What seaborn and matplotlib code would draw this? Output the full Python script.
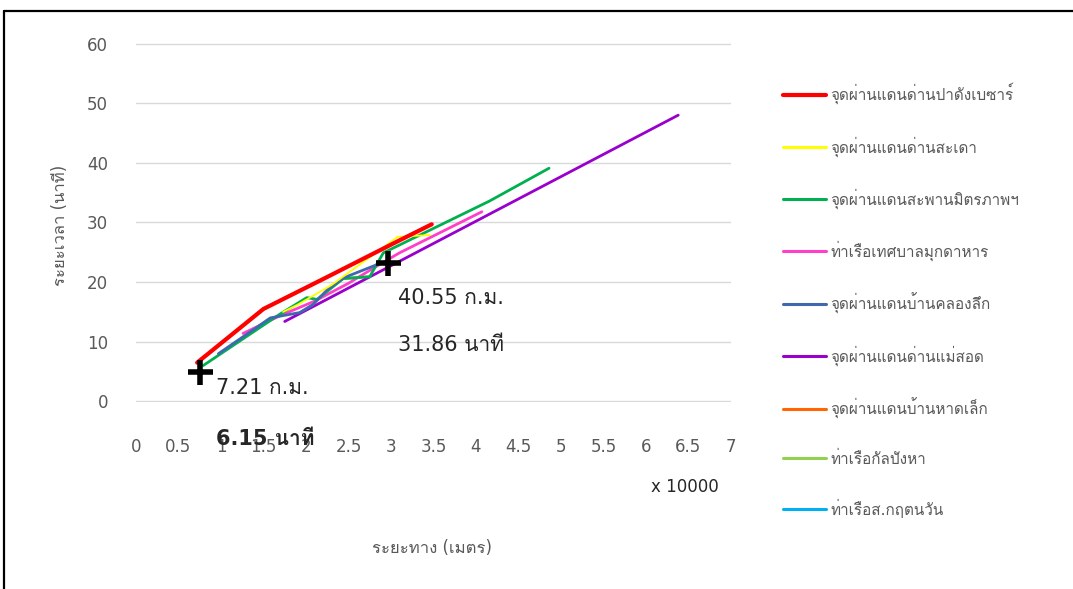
import matplotlib
matplotlib.use('Agg')
import matplotlib.pyplot as plt
import seaborn as sns
from matplotlib import font_manager
from matplotlib.ft2font import FT2Font
from matplotlib.lines import Line2D

# distance in units of 10000 m, time in minutes
names = ['จุดผ่านแดนด่านปาดังเบซาร์', 'จุดผ่านแดนด่านสะเดา', 'จุดผ่านแดนสะพานมิตรภาพฯ',
         'ท่าเรือเทศบาลมุกดาหาร', 'จุดผ่านแดนบ้านคลองลึก', 'จุดผ่านแดนด่านแม่สอด',
         'จุดผ่านแดนบ้านหาดเล็ก', 'ท่าเรือกัลปังหา', 'ท่าเรือส.กฤตนวัน']

padang_x = [0.72, 1.5, 2.2, 3.1, 3.48]
padang_y = [6.5, 15.5, 20.5, 27.0, 29.7]
sadao_x = [1.73, 1.9, 2.3, 2.87, 3.08, 3.46]
sadao_y = [15.0, 16.2, 19.5, 25.4, 27.6, 27.9]
mittra_x = [0.79, 1.69, 2.01, 2.13, 2.44, 2.75, 2.91, 4.16, 4.86]
mittra_y = [6.0, 14.6, 17.4, 17.1, 20.6, 20.9, 24.9, 33.6, 39.1]
mukdahan_x = [1.26, 1.7, 2.1, 2.5, 2.87, 3.1, 4.07]
mukdahan_y = [11.4, 14.4, 16.8, 19.8, 23.0, 24.9, 31.8]
khlongluek_x = [0.97, 1.44, 1.58, 1.93, 2.08, 2.25, 2.44, 2.83, 2.95]
khlongluek_y = [8.0, 12.6, 14.0, 14.9, 16.2, 18.7, 20.7, 22.9, 23.4]
maesot_x = [1.75, 6.38]
maesot_y = [13.4, 48.0]
hatlek_x = [1.5, 2.2]
hatlek_y = [15.5, 20.5]
kalpangha_x = [2.44, 2.75]
kalpangha_y = [20.6, 20.9]
kritnawan_x = [1.93, 2.08]
kritnawan_y = [14.9, 16.2]

colors = ['#FF0000', '#FFFF00', '#00B050', '#FF3FC8', '#4068B0',
          '#9A00CC', '#FF6600', '#92D050', '#00B0F0']
widths = [3.0, 1.3, 2.0, 2.0, 2.0, 2.0, 2.0, 2.0, 2.0]

mark_x = [0.75, 2.96]
mark_y = [5.0, 23.2]


def thai_font():
    for f in font_manager.fontManager.ttflist:
        try:
            if 0x0E01 in FT2Font(f.fname).get_charmap():
                return f.name
        except Exception:
            pass
    return 'DejaVu Sans'


sns.set_style('white')
fam = ['DejaVu Sans', thai_font()]
plt.rcParams['font.family'] = fam

fig = plt.figure(figsize=(10.73, 5.89), dpi=100)
ax = fig.add_axes([0.1267, 0.3175, 0.5545, 0.6095])

series = [(padang_x, padang_y), (sadao_x, sadao_y), (mittra_x, mittra_y),
          (mukdahan_x, mukdahan_y), (khlongluek_x, khlongluek_y), (maesot_x, maesot_y),
          (hatlek_x, hatlek_y), (kalpangha_x, kalpangha_y), (kritnawan_x, kritnawan_y)]

# hidden series go underneath, then the visible ones
order = [6, 7, 8, 5, 3, 2, 4, 1, 0]
for i in order:
    sx, sy = series[i]
    sns.lineplot(x=sx, y=sy, ax=ax, color=colors[i], lw=widths[i], sort=False,
                 estimator=None, legend=False)

ax.plot(mark_x, mark_y, '+', color='black', ms=18, mew=4, zorder=10, clip_on=False)

ax.set_xlim(0, 7)
ax.set_ylim(-0.1, 60.1)
ax.set_xticks([i * 0.5 for i in range(15)])
ax.set_xticklabels(['0', '0.5', '1', '1.5', '2', '2.5', '3', '3.5', '4', '4.5',
                    '5', '5.5', '6', '6.5', '7'])
ax.set_yticks(range(0, 61, 10))
ax.tick_params(axis='x', length=0, pad=26, labelsize=12, labelcolor='#595959')
ax.tick_params(axis='y', length=0, pad=20, labelsize=12, labelcolor='#595959')
ax.grid(axis='y', color='#D9D9D9', lw=1)
for s in ax.spines.values():
    s.set_visible(False)

ax.text(0.94, 2.3, '7.21 ก.ม.', fontsize=15, va='center', clip_on=False)
ax.text(0.94, -6.35, '6.15 นาที', fontsize=15, fontweight='bold', va='center', clip_on=False)
ax.text(3.08, 17.4, '40.55 ก.ม.', fontsize=15, va='center')
ax.text(3.08, 9.4, '31.86 นาที', fontsize=15, va='center')

fig.text(685 / 1073, 1 - 487 / 589, 'x 10000', fontsize=12, ha='center', va='center')
fig.text(432 / 1073, 1 - 548 / 589, 'ระยะทาง (เมตร)', fontsize=12, color='#595959',
         ha='center', va='center')
fig.text(60 / 1073, 1 - 225 / 589, 'ระยะเวลา (นาที)', fontsize=12, color='#595959',
         ha='center', va='center', rotation=90)

handles = [Line2D([], [], color=c, lw=3.0 if i == 0 else 2.2) for i, c in enumerate(colors)]
fig.legend(handles, names, loc='upper left', bbox_to_anchor=(783 / 1073, 1 - 83 / 589),
           frameon=False, fontsize=11, labelcolor='#595959', handlelength=2.8,
           handletextpad=0.3, labelspacing=2.08, borderpad=0, borderaxespad=0)

# chart frame (left and top edges visible)
fig.add_artist(Line2D([4 / 1073, 4 / 1073], [0, 1 - 11 / 589], color='black', lw=1.6))
fig.add_artist(Line2D([4 / 1073, 1], [1 - 11 / 589, 1 - 11 / 589], color='black', lw=1.6))

fig.savefig('out.png', dpi=100)
